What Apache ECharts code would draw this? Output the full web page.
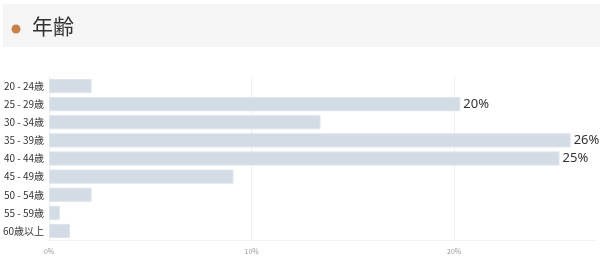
<!DOCTYPE html>
<html>
<head>
<meta charset="utf-8">
<script src="https://cdn.jsdelivr.net/npm/echarts@6/dist/echarts.min.js"></script>
<style>
html,body{margin:0;padding:0;background:#fff;}
#main{width:600px;height:272px;}
</style>
</head>
<body>
<div id="main"></div>
<script>
const titleText = '年齢';
const categories = ['20 - 24歳','25 - 29歳','30 - 34歳','35 - 39歳','40 - 44歳','45 - 49歳','50 - 54歳','55 - 59歳','60歳以上'];
const values = [2.1, 20.3, 13.4, 25.75, 25.2, 9.1, 2.1, 0.53, 1.03];
const labelledCategories = ['25 - 29歳','35 - 39歳','40 - 44歳'];
const xTicks = [0, 10, 20];

const chart = echarts.init(document.getElementById('main'), null, {renderer: 'canvas'});
const font = '"Noto Sans CJK JP", "Noto Sans", sans-serif';

chart.setOption({
  animation: false,
  textStyle: {fontFamily: font},
  graphic: [
    {type: 'rect', left: 3, top: 4, shape: {width: 597, height: 43}, style: {fill: '#f5f5f5'}, silent: true},
    {type: 'circle', shape: {cx: 16, cy: 29, r: 4.5}, style: {fill: '#c88148'}, silent: true},
    {type: 'text', left: 32, top: 16, style: {text: titleText, font: '21px ' + font, fill: '#333'}, silent: true}
  ],
  grid: {left: 48, top: 77, width: 548, height: 163, containLabel: false},
  xAxis: {
    type: 'value', min: 0, max: 27, interval: 10,
    axisLine: {show: true, lineStyle: {color: '#f2f2f2'}},
    axisTick: {show: false},
    splitLine: {show: true, lineStyle: {color: ['#eeeeee', '#eeeeee', '#eeeeee', 'rgba(0,0,0,0)'], width: 1}},
    axisLabel: {
      fontSize: 7, color: '#999', margin: 8,
      formatter: v => xTicks.indexOf(v) >= 0 ? v + '%' : ''
    }
  },
  yAxis: {
    type: 'category', data: categories, inverse: true,
    axisLine: {show: true, lineStyle: {color: '#f0f0f0'}},
    axisTick: {show: false},
    axisLabel: {fontSize: 10, color: '#333', margin: 5, fontFamily: font}
  },
  series: [{
    type: 'bar',
    barCategoryGap: '22%',
    data: values.map((v, i) => ({
      value: v,
      label: {show: labelledCategories.indexOf(categories[i]) >= 0}
    })),
    itemStyle: {color: '#d3dce5', borderColor: '#dde4eb', borderWidth: 1},
    label: {
      position: 'right', distance: 3, fontSize: 13, color: '#333',
      fontFamily: '"Noto Sans", sans-serif',
      formatter: p => Math.round(p.value) + '%'
    },
    silent: true
  }]
});
</script>
</body>
</html>
